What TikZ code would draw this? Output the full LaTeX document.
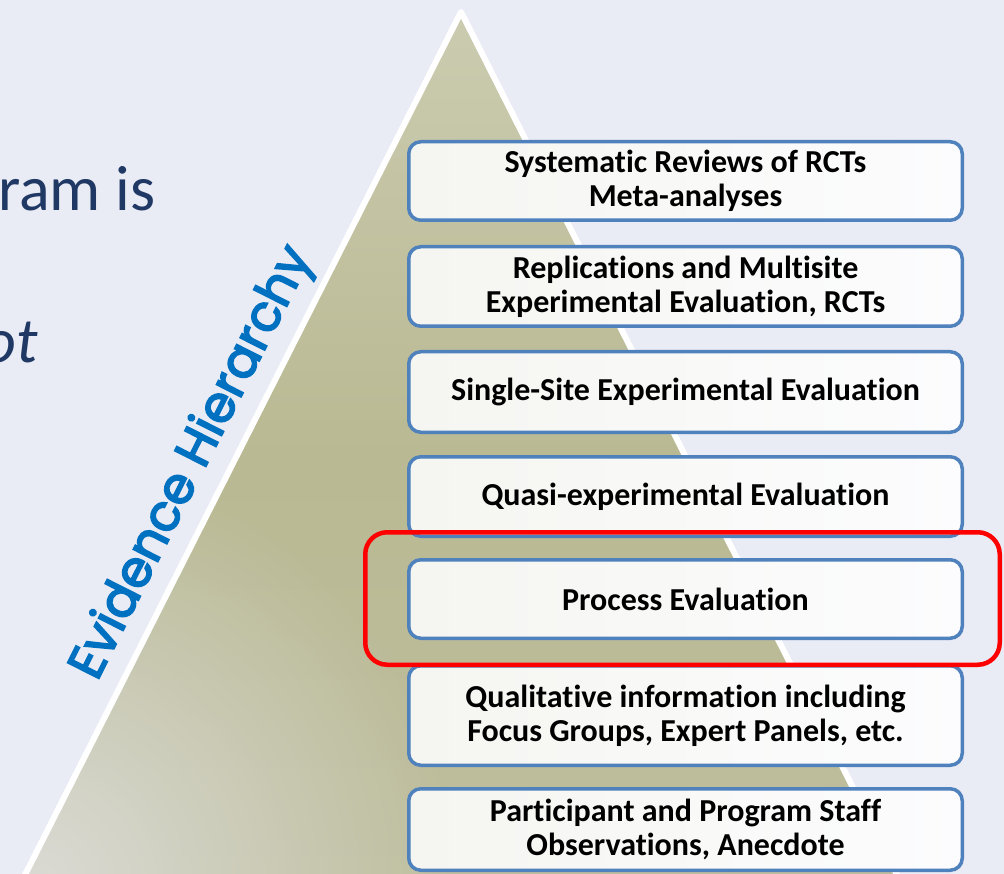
\documentclass[tikz,border=0pt]{standalone}
\usepackage{fontspec}
\setmainfont{Carlito}[Ligatures=CommonOff]
\newfontfamily\evfont{Poppins}[FakeBold=3.5]
\usetikzlibrary{fadings}
\definecolor{bgcol}{HTML}{E9EBF5}
\definecolor{boxblue}{HTML}{4F81BD}
\definecolor{boxl}{HTML}{F5F6F1}
\definecolor{boxr}{HTML}{FCFCFE}
\definecolor{navy}{HTML}{1F3864}
\definecolor{evblue}{HTML}{0070C0}
\definecolor{tritop}{HTML}{DBDBCA}
\definecolor{trihi}{HTML}{CBCBB0}
\definecolor{trimid}{HTML}{B9B993}
\definecolor{trilow}{HTML}{BEBE9E}
\definecolor{tribot}{HTML}{C6C6B0}
\definecolor{trilight}{HTML}{DADAD4}
\pgfdeclareverticalshading{pyrshade}{100bp}{color(0bp)=(tribot); color(25bp)=(trilow); color(50bp)=(trimid); color(75bp)=(trihi); color(100bp)=(tritop)}
\tikzfading[name=radfade, inner color=transparent!0, outer color=transparent!100]
\begin{document}
\begin{tikzpicture}[x=1pt,y=-1pt,
  ebox/.style={draw=boxblue, line width=3.5pt, rounded corners=12pt,
    left color=boxl, right color=boxr, minimum width=553.5pt,
    align=center, font=\fontsize{32}{34}\selectfont\bfseries, text=black, inner sep=0pt},
  hilite/.style={draw=red, line width=4.5pt, rounded corners=22pt},
  slidetext/.style={text=navy, font=\fontsize{64}{70}\selectfont, inner sep=0pt},
]
\useasboundingbox (0,0) rectangle (1004,874);
\fill[bgcol] (0,0) rectangle (1004,874);
% pyramid shadow
\fill[black, opacity=0.07] (462,15) -- (14,903) -- (912,903) -- cycle;
% pyramid
\shade[shading=pyrshade] (461,12) -- (12.3,900) -- (909.7,900) -- cycle;
\begin{scope}
  \clip (461,12) -- (12.3,900) -- (909.7,900) -- cycle;
  \fill[trilight, path fading=radfade] (40,880) circle (420);
\end{scope}
\draw[white, line width=6pt, line join=round] (12.3,900) -- (461,12) -- (909.7,900);
% label along the left edge
\node[rotate=63.2, anchor=base west, inner sep=0pt, text=evblue,
  font=\evfont\fontsize{50}{56}\selectfont] (ev) at (97,682) {Evidence Hierarchy};
% slide text
\node[slidetext, anchor=base west] (t1) at (-2,211) {ram is};
\node[slidetext, anchor=base east, font=\fontsize{64}{70}\selectfont\itshape] (t2) at (38,363) {ot};
% boxes
\node[ebox, minimum height=78.5pt] (b1) at (685.5,181) {Systematic Reviews of RCTs\\Meta-analyses};
\node[ebox, minimum height=79.5pt] (b2) at (685.5,286.5) {Replications and Multisite\\Experimental Evaluation, RCTs};
\node[ebox, minimum height=80.5pt] (b3) at (685.5,392) {Single-Site Experimental Evaluation};
\node[ebox, minimum height=79.5pt] (b4) at (685.5,496.5) {Quasi-experimental Evaluation};
\node[ebox, minimum height=78.5pt] (b5) at (685.5,599) {Process Evaluation};
\node[ebox, minimum height=99.5pt] (b6) at (685.5,715.5) {Qualitative information including\\Focus Groups, Expert Panels, etc.};
\node[ebox, minimum height=81.5pt] (b7) at (685.5,829.5) {Participant and Program Staff\\Observations, Anecdote};
% highlight
\node[hilite, minimum width=634.5pt, minimum height=132.5pt] (hl) at (682.5,598.5) {};
\end{tikzpicture}
\end{document}
